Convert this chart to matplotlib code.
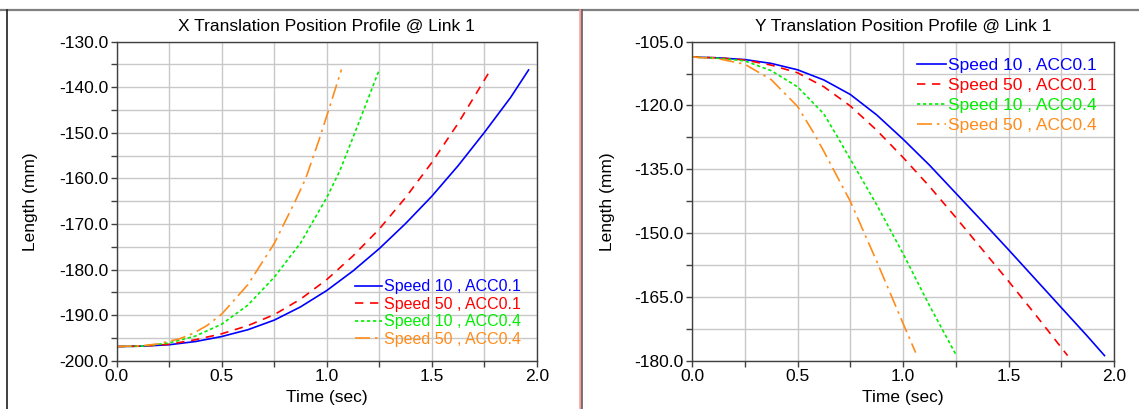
import matplotlib.pyplot as plt
from matplotlib.ticker import MultipleLocator, FormatStrFormatter
from matplotlib.lines import Line2D

plt.rcParams['font.family'] = ['Liberation Sans', 'DejaVu Sans']

labels = ['Speed 10 , ACC0.1', 'Speed 50 , ACC0.1', 'Speed 10 , ACC0.4', 'Speed 50 , ACC0.4']
colors = ['#0000ff', '#ff0000', '#00ee00', '#ff8c1a']
styles = ['-', (0, (5, 4)), (0, (2, 1.6)), (0, (9, 3, 1.5, 3))]

# X translation (left)
x_t1 = [0, 0.125, 0.25, 0.375, 0.5, 0.625, 0.75, 0.875, 1.0, 1.125, 1.25, 1.375, 1.5, 1.625, 1.75, 1.875, 1.96]
x_v1 = [-196.9, -196.8, -196.5, -195.8, -194.7, -193.2, -191.1, -188.2, -184.6, -180.3, -175.4, -169.9,
        -163.9, -157.2, -149.9, -142.2, -136.2]
x_t2 = [0, 0.125, 0.25, 0.375, 0.5, 0.625, 0.75, 0.875, 1.0, 1.125, 1.25, 1.375, 1.5, 1.625, 1.78]
x_v2 = [-196.9, -196.8, -196.4, -195.4, -194.1, -192.3, -189.9, -186.5, -182.2, -177.0, -171.1, -164.2,
        -156.5, -147.9, -136.1]
x_t3 = [0, 0.125, 0.25, 0.375, 0.5, 0.625, 0.75, 0.875, 1.0, 1.0625, 1.125, 1.1875, 1.25]
x_v3 = [-196.9, -196.8, -196.1, -194.6, -192.0, -187.8, -181.7, -174.2, -164.2, -158.3, -151.0, -143.6, -136.1]
x_t4 = [0, 0.125, 0.2, 0.262, 0.3, 0.365, 0.43, 0.5, 0.625, 0.75, 0.85, 0.9, 0.96, 1.0, 1.07]
x_v4 = [-196.9, -196.7, -196.3, -195.6, -195.2, -194.0, -192.3, -189.8, -183.3, -174.3, -165.0, -160.0,
        -152.0, -146.3, -136.1]

# Y translation (right)
y_t1 = [0, 0.125, 0.25, 0.375, 0.5, 0.625, 0.75, 0.875, 1.0, 1.125, 1.25, 1.375, 1.5, 1.625, 1.75, 1.875, 1.955]
y_v1 = [-108.6, -108.8, -109.2, -110.1, -111.6, -114.0, -117.4, -122.2, -127.9, -134.0, -140.6, -147.2,
        -153.9, -160.7, -167.5, -174.3, -178.8]
y_t2 = [0, 0.125, 0.25, 0.375, 0.5, 0.625, 0.75, 0.875, 1.0, 1.125, 1.25, 1.375, 1.5, 1.625, 1.78]
y_v2 = [-108.6, -108.8, -109.3, -110.5, -112.3, -115.6, -120.1, -125.8, -132.2, -139.0, -146.3, -153.8,
        -161.3, -169.0, -178.8]
y_t3 = [0, 0.125, 0.25, 0.375, 0.5, 0.625, 0.6875, 0.75, 0.875, 1.0, 1.125, 1.25]
y_v3 = [-108.6, -108.9, -109.5, -111.8, -115.6, -122.0, -127.2, -132.6, -143.3, -154.8, -167.0, -178.5]
y_t4 = [0, 0.125, 0.25, 0.375, 0.5, 0.575, 0.625, 0.75, 0.875, 1.0, 1.06]
y_v4 = [-108.6, -109.0, -110.3, -113.9, -120.2, -126.3, -130.8, -142.5, -156.6, -171.2, -178.1]

fig = plt.figure(figsize=(11.39, 4.09), dpi=100)
W, H = 1139.0, 409.0


def px_axes(l, r, t, b):
    return fig.add_axes([l / W, 1 - b / H, (r - l) / W, (b - t) / H])


ax1 = px_axes(116.5, 537, 41.7, 360.7)
ax2 = px_axes(692, 1114, 41.7, 360.7)

panels = [
    (ax1, [(x_t1, x_v1), (x_t2, x_v2), (x_t3, x_v3), (x_t4, x_v4)], 'X Translation Position Profile @ Link 1',
     (-200, -130), 10, 5, -0.187),
    (ax2, [(y_t1, y_v1), (y_t2, y_v2), (y_t3, y_v3), (y_t4, y_v4)], 'Y Translation Position Profile @ Link 1',
     (-180, -105), 15, 7.5, -0.182),
]

for ax, series, title, ylim, ymaj, ymin, ylab_x in panels:
    for (t, v), c, ls in zip(series, colors, styles):
        ax.plot(t, v, color=c, linestyle=ls, lw=1.2)
    ax.set_xlim(0, 2.0)
    ax.set_ylim(*ylim)
    ax.xaxis.set_major_locator(MultipleLocator(0.5))
    ax.xaxis.set_minor_locator(MultipleLocator(0.25))
    ax.yaxis.set_major_locator(MultipleLocator(ymaj))
    ax.yaxis.set_minor_locator(MultipleLocator(ymin))
    ax.xaxis.set_major_formatter(FormatStrFormatter('%.1f'))
    ax.yaxis.set_major_formatter(FormatStrFormatter('%.1f'))
    ax.grid(True, which='both', color='#c8c8c8', lw=1.0)
    ax.set_axisbelow(True)
    ax.tick_params(which='both', direction='out', length=4, width=1, color='#404040', labelsize=12.5, pad=2)
    for s in ax.spines.values():
        s.set_color('#404040')
        s.set_linewidth(1.0)
    ax.text(0.5, 1.047, title, transform=ax.transAxes, ha='center', va='center', fontsize=12.5)
    ax.set_xlabel('Time (sec)', fontsize=12.5)
    ax.xaxis.set_label_coords(0.5, -0.092)
    ax.set_ylabel('Length (mm)', fontsize=12.5)
    ax.yaxis.set_label_coords(ylab_x, 0.5)

leg1 = ax1.legend(labels, loc='upper left', bbox_to_anchor=(0.566, 0.255), frameon=False, fontsize=11.5,
                  handlelength=1.7, handletextpad=0.15, labelspacing=0.16, borderpad=0, borderaxespad=0)
for txt, c in zip(leg1.get_texts(), colors):
    txt.set_color(c)
leg2 = ax2.legend(labels, loc='upper left', bbox_to_anchor=(0.533, 0.948), frameon=False, fontsize=12.5,
                  handlelength=1.65, handletextpad=0.12, labelspacing=0.27, borderpad=0, borderaxespad=0)
for txt, c in zip(leg2.get_texts(), colors):
    txt.set_color(c)

# panel frames
def fline(x0, y0, x1, y1, **kw):
    fig.add_artist(Line2D([x0 / W, x1 / W], [1 - y0 / H, 1 - y1 / H], **kw))


fline(0, 9.5, W, 9.5, color='#808080', lw=1.6)
fline(7.2, 9.5, 7.2, H, color='#202020', lw=1.2)
fline(580.0, 9.5, 580.0, H, color='#ff9999', lw=1.8)
fline(582.2, 9.5, 582.2, H, color='#606060', lw=1.2)

fig.savefig('out.png', dpi=100)
